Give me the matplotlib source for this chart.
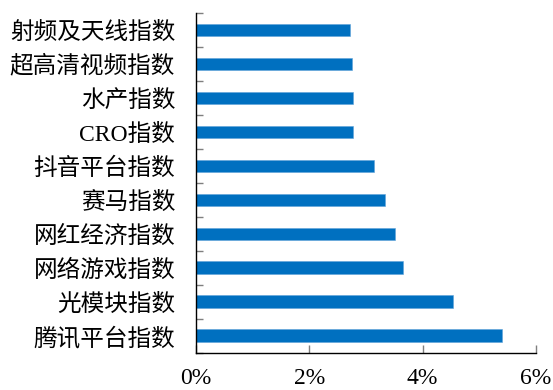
import matplotlib.pyplot as plt
import numpy as np

plt.rcParams['font.family'] = ['Liberation Serif', 'Noto Sans CJK SC']

# 指数名称与涨幅（%）
names = ['射频及天线指数', '超高清视频指数', '水产指数', 'CRO指数', '抖音平台指数',
         '赛马指数', '网红经济指数', '网络游戏指数', '光模块指数', '腾讯平台指数']
values = [2.72, 2.75, 2.77, 2.77, 3.15, 3.34, 3.52, 3.66, 4.53, 5.40]
xticks = [0, 2, 4, 6]
xlabels = ['0%', '2%', '4%', '6%']

fig = plt.figure(figsize=(5.53, 3.90), dpi=100)
ax = fig.add_axes([0.3545, 0.095, 0.6145, 0.8717])

y = np.arange(len(names))
ax.barh(y, values, height=0.38, color='#0070C0', edgecolor='#5FA3D9', linewidth=0.4)

ax.set_xlim(0, 6)
ax.set_ylim(len(names) - 0.5, -0.5)

ax.set_yticks(y)
ax.set_yticklabels(names, fontsize=17)
ax.set_yticks(np.arange(-0.5, len(names)), minor=True)
ax.tick_params(axis='y', which='major', length=0, pad=15)
ax.tick_params(axis='y', which='minor', direction='in', length=5, color='#7f7f7f', width=1)

ax.set_xticks(xticks)
ax.set_xticklabels(xlabels, fontsize=17)
ax.tick_params(axis='x', direction='in', length=6, color='#7f7f7f', width=1, pad=11)

for side in ['top', 'right']:
    ax.spines[side].set_visible(False)
for side in ['left', 'bottom']:
    ax.spines[side].set_color('black')
    ax.spines[side].set_linewidth(1)

fig.savefig('out.png', dpi=100)
